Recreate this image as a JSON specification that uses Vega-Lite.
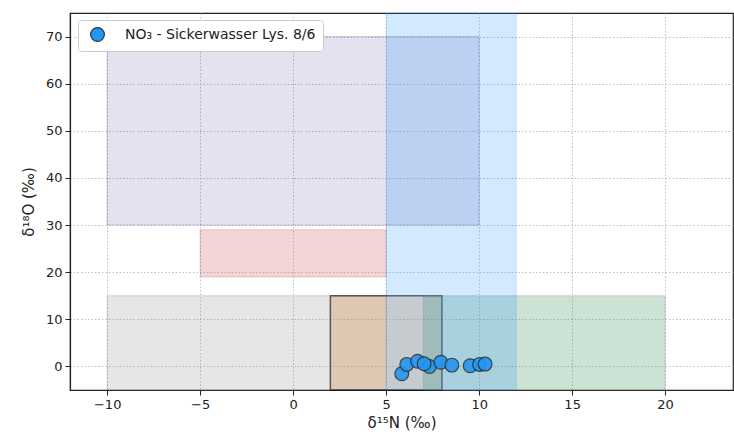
{
  "$schema": "https://vega.github.io/schema/vega-lite/v6.json",
  "width": 663,
  "height": 377,
  "autosize": {"type": "none"},
  "padding": {"left": 70, "top": 13, "right": 1, "bottom": 50},
  "background": "white",
  "config": {
    "font": "DejaVu Sans",
    "view": {"stroke": "#222222", "strokeWidth": 1.2},
    "axis": {
      "labelFont": "DejaVu Sans",
      "labelFontSize": 13,
      "labelColor": "#222222",
      "titleFont": "DejaVu Sans",
      "titleFontSize": 15,
      "titleFontWeight": "normal",
      "titleColor": "#222222",
      "domainColor": "#222222",
      "domainWidth": 1.2,
      "tickColor": "#222222",
      "tickSize": 5,
      "tickWidth": 1,
      "labelPadding": 3,
      "grid": true,
      "gridColor": "#b0b0b0",
      "gridDash": [1.5, 2],
      "gridWidth": 0.8
    },
    "legend": {
      "labelFont": "DejaVu Sans",
      "labelFontSize": 14,
      "labelColor": "#222222",
      "labelLimit": 0
    }
  },
  "datasets": {
    "boxes": [
      {"box": "gray", "x1": -10, "x2": 5, "y1": -5, "y2": 15},
      {"box": "red", "x1": -5, "x2": 5, "y1": 19, "y2": 29},
      {"box": "purple", "x1": -10, "x2": 10, "y1": 30, "y2": 70},
      {"box": "tan", "x1": 2, "x2": 8, "y1": -5, "y2": 15},
      {"box": "green", "x1": 7, "x2": 20, "y1": -5, "y2": 15},
      {"box": "blue", "x1": 5, "x2": 12, "y1": -5, "y2": 75}
    ],
    "points": [
      {"series": "NO₃ - Sickerwasser Lys. 8/6", "d15N": 5.84, "d18O": -1.55},
      {"series": "NO₃ - Sickerwasser Lys. 8/6", "d15N": 6.11, "d18O": 0.43},
      {"series": "NO₃ - Sickerwasser Lys. 8/6", "d15N": 6.69, "d18O": 1.1},
      {"series": "NO₃ - Sickerwasser Lys. 8/6", "d15N": 7.33, "d18O": 0.0},
      {"series": "NO₃ - Sickerwasser Lys. 8/6", "d15N": 7.04, "d18O": 0.57},
      {"series": "NO₃ - Sickerwasser Lys. 8/6", "d15N": 7.94, "d18O": 0.9},
      {"series": "NO₃ - Sickerwasser Lys. 8/6", "d15N": 8.53, "d18O": 0.28},
      {"series": "NO₃ - Sickerwasser Lys. 8/6", "d15N": 9.52, "d18O": 0.15},
      {"series": "NO₃ - Sickerwasser Lys. 8/6", "d15N": 10.02, "d18O": 0.43},
      {"series": "NO₃ - Sickerwasser Lys. 8/6", "d15N": 10.32, "d18O": 0.5}
    ]
  },
  "layer": [
    {
      "data": {"name": "boxes"},
      "encoding": {
        "x": {
          "field": "x1",
          "type": "quantitative",
          "scale": {"domain": [-12, 23.65], "nice": false, "zero": false},
          "axis": {"values": [-10, -5, 0, 5, 10, 15, 20], "title": "δ¹⁵N (‰)", "titlePadding": 4, "labelExpr": "replace(datum.label, '-', '−')"}
        },
        "x2": {"field": "x2"},
        "y": {
          "field": "y1",
          "type": "quantitative",
          "scale": {"domain": [-5, 75], "nice": false, "zero": false},
          "axis": {"values": [0, 10, 20, 30, 40, 50, 60, 70], "title": "δ¹⁸O (‰)", "titlePadding": 9}
        },
        "y2": {"field": "y2"}
      },
      "layer": [
        {"transform": [{"filter": "datum.box === 'gray'"}], "mark": {"type": "rect", "fill": "gray", "fillOpacity": 0.2, "stroke": "gray", "strokeOpacity": 0.3, "strokeWidth": 1}},
        {"transform": [{"filter": "datum.box === 'red'"}], "mark": {"type": "rect", "fill": "indianred", "fillOpacity": 0.25, "stroke": "indianred", "strokeOpacity": 0.3, "strokeWidth": 1}},
        {"transform": [{"filter": "datum.box === 'purple'"}], "mark": {"type": "rect", "fill": "darkslateblue", "fillOpacity": 0.15, "stroke": "darkslateblue", "strokeOpacity": 0.25, "strokeWidth": 1}},
        {"transform": [{"filter": "datum.box === 'tan'"}], "mark": {"type": "rect", "fill": "peru", "fillOpacity": 0.3, "stroke": "black", "strokeOpacity": 0.6, "strokeWidth": 1.5}},
        {"transform": [{"filter": "datum.box === 'green'"}], "mark": {"type": "rect", "fill": "seagreen", "fillOpacity": 0.25, "stroke": "gray", "strokeOpacity": 0.3, "strokeWidth": 1}},
        {"transform": [{"filter": "datum.box === 'blue'"}], "mark": {"type": "rect", "fill": "dodgerblue", "fillOpacity": 0.2, "stroke": "dodgerblue", "strokeOpacity": 0.15, "strokeWidth": 1}}
      ]
    },
    {
      "data": {"name": "points"},
      "mark": {"type": "circle", "size": 190, "opacity": 0.9, "stroke": "#333333", "strokeWidth": 1.2},
      "encoding": {
        "x": {"field": "d15N", "type": "quantitative", "title": "δ¹⁵N (‰)"},
        "y": {"field": "d18O", "type": "quantitative", "title": "δ¹⁸O (‰)"},
        "color": {
          "field": "series",
          "type": "nominal",
          "scale": {"range": ["#2196f3"]},
          "legend": {
            "title": null,
            "orient": "none",
            "legendX": 8,
            "legendY": 7,
            "fillColor": "white",
            "strokeColor": "#cccccc",
            "cornerRadius": 3,
            "padding": 7,
            "symbolType": "circle",
            "symbolSize": 190,
            "symbolOpacity": 1,
            "symbolStrokeColor": "#333333",
            "symbolStrokeWidth": 1.2,
            "symbolOffset": 5,
            "labelOffset": 20,
            "labelLimit": 0
          }
        }
      }
    }
  ]
}
